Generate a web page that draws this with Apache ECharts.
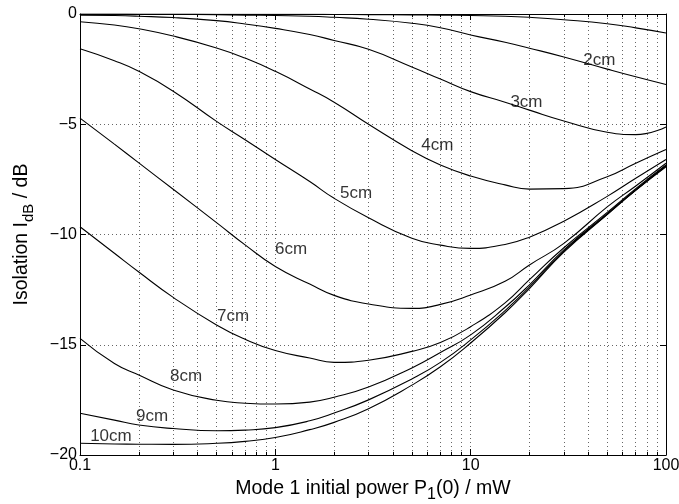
<!DOCTYPE html>
<html><head><meta charset="utf-8">
<script src="https://cdn.jsdelivr.net/npm/echarts@6/dist/echarts.min.js"></script>
<style>html,body{margin:0;padding:0;background:#fff}#c{width:679px;height:504px}</style>
</head><body><div id="c"></div>
<script>
// ---- data ----
const powers = [0.1, 0.15, 0.2, 0.3, 0.5, 0.7, 1, 1.5, 2, 3, 5, 7, 10, 15, 20, 30, 50, 70, 100];
const lengths = ['1cm', '2cm', '3cm', '4cm', '5cm', '6cm', '7cm', '8cm', '9cm', '10cm'];
const iso1cm  = [0, 0, 0, 0, -0.01, -0.01, -0.01, -0.01, -0.02, -0.03, -0.04, -0.05, -0.07, -0.1, -0.15, -0.26, -0.44, -0.63, -0.86];
const iso2cm  = [-0.01, -0.01, -0.02, -0.02, -0.03, -0.05, -0.07, -0.1, -0.15, -0.24, -0.42, -0.62, -0.95, -1.28, -1.55, -1.95, -2.5, -2.85, -3.2];
const iso3cm  = [-0.05, -0.07, -0.1, -0.16, -0.3, -0.45, -0.65, -0.93, -1.2, -1.6, -2.4, -2.95, -3.52, -4.0, -4.36, -4.85, -5.36, -5.47, -5.12];
const iso4cm  = [-0.35, -0.5, -0.67, -1.0, -1.54, -2.0, -2.6, -3.4, -4.0, -5.0, -6.2, -6.85, -7.35, -7.75, -7.94, -7.92, -7.38, -6.77, -6.15];
const iso5cm  = [-1.58, -2.12, -2.6, -3.5, -4.87, -5.7, -6.6, -7.6, -8.36, -9.24, -10.17, -10.48, -10.63, -10.45, -10.12, -9.4, -8.27, -7.45, -6.6];
const iso6cm  = [-4.72, -5.9, -6.75, -7.95, -9.46, -10.47, -11.45, -12.25, -12.76, -13.15, -13.35, -13.17, -12.74, -12.12, -11.38, -10.4, -8.75, -7.8, -6.77];
const iso7cm  = [-9.65, -10.85, -11.7, -12.85, -14.1, -14.75, -15.26, -15.6, -15.8, -15.7, -15.3, -14.9, -14.18, -13.1, -12.05, -10.6, -9.0, -7.92, -6.85];
const iso8cm  = [-14.71, -15.85, -16.37, -17.05, -17.52, -17.65, -17.69, -17.6, -17.38, -16.92, -16.05, -15.35, -14.55, -13.3, -12.28, -10.7, -9.05, -7.97, -6.88];
const iso9cm  = [-18.11, -18.42, -18.64, -18.8, -18.9, -18.87, -18.76, -18.45, -18.1, -17.5, -16.55, -15.8, -14.78, -13.45, -12.38, -10.75, -9.08, -7.99, -6.9];
const iso10cm = [-19.47, -19.5, -19.51, -19.52, -19.47, -19.38, -19.21, -18.85, -18.52, -17.9, -16.83, -16.0, -14.92, -13.55, -12.45, -10.8, -9.1, -8.0, -6.93];
const isoValues = [iso1cm, iso2cm, iso3cm, iso4cm, iso5cm, iso6cm, iso7cm, iso8cm, iso9cm, iso10cm];

const curveLabels = ['2cm', '3cm', '4cm', '5cm', '6cm', '7cm', '8cm', '9cm', '10cm'];
const curveLabelX = [45.6, 19.3, 6.75, 2.59, 1.205, 0.608, 0.349, 0.234, 0.144];
const curveLabelY = [-2.09, -3.99, -5.94, -8.12, -10.66, -13.7, -16.42, -18.23, -19.14];

const xMin = 0.1, xMax = 100;
const yMin = -20, yMax = 0, yStep = 5;
const minorX = [0.2, 0.3, 0.4, 0.5, 0.6, 0.7, 0.8, 0.9, 2, 3, 4, 5, 6, 7, 8, 9, 20, 30, 40, 50, 60, 70, 80, 90];

// ---- chart ----
const FONT = "'Liberation Sans', Arial, Helvetica, sans-serif";
const gridDots = { color: '#666', type: [1, 3], width: 1 };
const minorTickLen = 0.14; // dB, ~3px

const chart = echarts.init(document.getElementById('c'), null, { renderer: 'canvas' });

const series = lengths.map((name, i) => ({
  name, type: 'line', smooth: 0.5, showSymbol: false, silent: true,
  lineStyle: { color: '#000', width: 1.1 },
  data: powers.map((p, j) => [p, isoValues[i][j]]),
  z: 5
}));

series[0].markLine = {
  silent: true, symbol: 'none', label: { show: false }, animation: false,
  lineStyle: gridDots,
  data: minorX.map(v => ({ xAxis: v }))
};
const tickPairs = [];
minorX.forEach(v => {
  tickPairs.push([{ coord: [v, yMin] }, { coord: [v, yMin + minorTickLen] }]);
  tickPairs.push([{ coord: [v, yMax] }, { coord: [v, yMax - minorTickLen] }]);
});
series[1].markLine = {
  silent: true, symbol: 'none', label: { show: false }, animation: false,
  lineStyle: { color: '#000', type: 'solid', width: 1 },
  data: tickPairs
};

series.push({
  type: 'scatter', silent: true, symbolSize: 1, itemStyle: { color: 'rgba(0,0,0,0)' },
  data: curveLabels.map((t, i) => ({ name: t, value: [curveLabelX[i], curveLabelY[i]] })),
  label: { show: true, position: 'inside', formatter: '{b}', color: '#000', fontSize: 17, fontFamily: FONT },
  z: 10
});

const fmtX = v => String(+Number(v).toPrecision(3));
const fmtY = v => (v < 0 ? '\u2212' + Math.abs(v) : String(v));

chart.setOption({
  animation: false,
  backgroundColor: '#fff',
  grid: { left: 80, right: 13, top: 14, bottom: 49, containLabel: false, outerBoundsMode: 'none' },
  xAxis: [{
    type: 'log', logBase: 10, min: xMin, max: xMax, position: 'bottom',
    axisLine: { show: true, onZero: false, lineStyle: { color: '#000', width: 1 } },
    axisTick: { show: true, inside: true, length: 6, lineStyle: { color: '#000' } },
    minorTick: { show: false },
    axisLabel: { color: '#000', fontSize: 16, fontFamily: FONT, margin: 3, formatter: fmtX },
    splitLine: { show: true, lineStyle: gridDots },
    name: '{a|Mode 1 initial power P}{s|1}{a|(0) / mW}',
    nameLocation: 'middle', nameGap: 18,
    nameTextStyle: { rich: {
      a: { fontSize: 19.5, lineHeight: 28, color: '#000', fontFamily: FONT },
      s: { fontSize: 16, lineHeight: 14, verticalAlign: 'bottom', color: '#000', fontFamily: FONT }
    } }
  }, {
    type: 'log', logBase: 10, min: xMin, max: xMax, position: 'top',
    axisLine: { show: true, onZero: false, lineStyle: { color: '#000', width: 1 } },
    axisTick: { show: true, inside: true, length: 6, lineStyle: { color: '#000' } },
    axisLabel: { show: false }, splitLine: { show: false }
  }],
  yAxis: [{
    type: 'value', min: yMin, max: yMax, interval: yStep, position: 'left',
    axisLine: { show: true, onZero: false, lineStyle: { color: '#000', width: 1 } },
    axisTick: { show: true, inside: true, length: 6, lineStyle: { color: '#000' } },
    axisLabel: { color: '#000', fontSize: 16, fontFamily: FONT, margin: 3, formatter: fmtY },
    splitLine: { show: true, lineStyle: gridDots },
    name: '{a|Isolation I}{s|dB}{a| / dB}',
    nameLocation: 'middle', nameGap: 44,
    nameTextStyle: { rich: {
      a: { fontSize: 19.5, lineHeight: 28, color: '#000', fontFamily: FONT },
      s: { fontSize: 15, lineHeight: 14, verticalAlign: 'bottom', color: '#000', fontFamily: FONT }
    } }
  }, {
    type: 'value', min: yMin, max: yMax, interval: yStep, position: 'right',
    axisLine: { show: true, onZero: false, lineStyle: { color: '#000', width: 1 } },
    axisTick: { show: true, inside: true, length: 6, lineStyle: { color: '#000' } },
    axisLabel: { show: false }, splitLine: { show: false }
  }],
  series
});
</script>
</body></html>
